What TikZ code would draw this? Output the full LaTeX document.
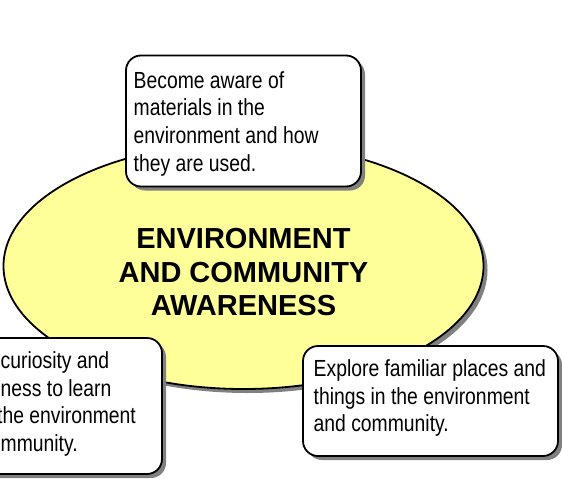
\documentclass[tikz,border=0pt]{standalone}
\usepackage{fontspec}
\setmainfont{Liberation Sans}
\newfontfamily\narrowfont[FakeStretch=0.83]{Liberation Sans}
\usetikzlibrary{shapes.geometric,shadows}
\definecolor{shadowgray}{RGB}{128,128,128}
\definecolor{paleyellow}{RGB}{255,255,153}
\begin{document}
\begin{tikzpicture}[x=1pt,y=-1pt,
  gshadow/.style={drop shadow={shadow xshift=4pt,shadow yshift=-4pt,fill=shadowgray,opacity=1}},
  core/.style={ellipse,draw=black,line width=1.8pt,fill=paleyellow,inner sep=0pt,gshadow},
  infobox/.style={rectangle,rounded corners=15pt,draw=black,line width=1.8pt,fill=white,inner sep=0pt,gshadow},
  boxtext/.style={font=\narrowfont\fontsize{23.3}{27.7}\selectfont,align=left,inner sep=0pt,anchor=north west},
  titletext/.style={font=\bfseries\fontsize{29}{33.5}\selectfont,align=center,inner sep=0pt,anchor=north}]
\useasboundingbox (0,0) rectangle (562,479);
\clip (0,0) rectangle (562,479);
\node[core,minimum width=480pt,minimum height=246pt] (core) at (243.5,266) {};
\node[titletext] (title) at (243.5,228.5) {ENVIRONMENT\\AND COMMUNITY\\AWARENESS};
\node[infobox,minimum width=235pt,minimum height=131pt] (topbox) at (243.5,121) {};
\node[boxtext] (toptext) at (133.5,71) {Become aware of\\materials in the\\environment and how\\they are used.};
\node[infobox,minimum width=222pt,minimum height=136pt] (leftbox) at (51,406) {};
\node[boxtext] (lefttext) at (-3,351.3) {\hspace*{3.5pt}curiosity and\\\hspace*{3.5pt}ness to learn\\the environment\\\hspace*{3.5pt}mmunity.};
\node[infobox,minimum width=255pt,minimum height=110pt] (rightbox) at (430.5,401) {};
\node[boxtext] (righttext) at (313.5,359.5) {Explore familiar places and\\things in the environment\\and community.};
\end{tikzpicture}
\end{document}
